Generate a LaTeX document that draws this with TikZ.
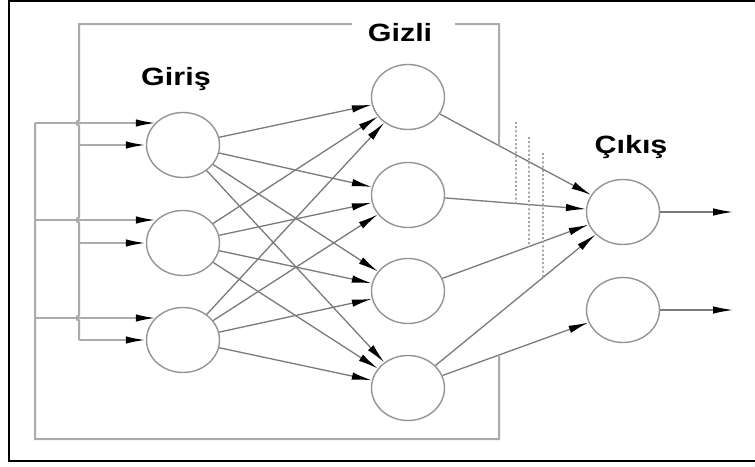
\documentclass[tikz,border=0pt]{standalone}
\usepackage{fontspec}
\setmainfont{Liberation Sans}
\usetikzlibrary{arrows.meta,shapes.geometric,calc}
\begin{document}
\begin{tikzpicture}[x=1pt,y=-1pt,
  neuron/.style={ellipse,draw=black!42,line width=1.4pt,minimum width=73pt,minimum height=65pt,inner sep=0pt,fill=white},
  conn/.style={draw=black!52,line width=1.3pt},
  tip/.style={-{Latex[length=20pt,width=7.5pt,color=black,fill=black]}},
  fb/.style={draw=black!33,line width=2pt},
  dots/.style={draw=black!35,line width=1.6pt,dash pattern=on 2pt off 2.2pt},
  frame/.style={draw=black,line width=1.8pt},
  layer/.style={font=\fontsize{25}{25}\selectfont\bfseries,xscale=1.22,anchor=base,inner sep=0pt}]
\useasboundingbox (0,0) rectangle (755,466);
\fill[white] (0,0) rectangle (755,466);
\begin{scope}
  \clip (0,0) rectangle (755,466);
  \draw[frame] (9,1) rectangle (775,461);
\end{scope}

% neurons
\foreach \n/\y in {1/145,2/243,3/340} \node[neuron] (i\n) at (183,\y) {};
\foreach \n/\y in {1/97,2/195,3/291,4/388} \node[neuron] (h\n) at (408,\y) {};
\node[neuron] (o1) at (623,212) {};
\node[neuron] (o2) at (623,310) {};

% layer titles
\node[layer] (tIn)  at (176,85) {Giriş};
\node[layer] (tHid) at (400,41) {Gizli};
\node[layer] (tOut) at (631,153) {Çıkış};

% weights
\foreach \a in {1,2,3} \foreach \b in {1,...,4} \draw[conn,tip] (i\a) -- (h\b);
\foreach \b in {1,...,4} \draw[conn,tip] (h\b) -- (o1);
\draw[conn,tip] (h4) -- (o2);

% outputs
\coordinate (y1) at (733,212);
\coordinate (y2) at (733,310);
\draw[conn,tip] (o1) -- (y1);
\draw[conn,tip] (o2) -- (y2);

% dotted guides
\coordinate (d1) at (516,122);
\coordinate (d2) at (529,137);
\coordinate (d3) at (543,153);
\draw[dots] (d1) -- ($(h2)!{108/215}!(o1)$);
\draw[dots] (d2) -- ($(h3)!{121/215}!(o1)$);
\draw[dots] (d3) -- ($(h4)!{135/215}!(o1)$);

% feedback loops
\coordinate (fbA) at ($(h1)!{91/215}!(o1)$);
\coordinate (fbB) at ($(h4)!{91/215}!(o2)$);
\coordinate (tr) at (499,24);
\coordinate (gapR) at (455,24);
\coordinate (gapL) at (352,24);
\coordinate (tl) at (79,24);
\coordinate (br) at (499,439);
\coordinate (bl) at (35,439);
\coordinate (L1) at (35,123);
\coordinate (L2) at (35,220);
\coordinate (L3) at (35,318);
\coordinate (M1) at (79,145);
\coordinate (M2) at (79,243);
\coordinate (M3) at (79,340);

\draw[fb] (fbA) -- (tr) -- (gapR);
\draw[fb] (gapL) -- (tl) -- (79,120.5) arc[start angle=270,end angle=90,radius=2.5]
  -- (79,217.5) arc[start angle=270,end angle=90,radius=2.5]
  -- (79,315.5) arc[start angle=270,end angle=90,radius=2.5] -- (M3);
\draw[fb] (fbB) -- (br) -- (bl) -- (L1);

\draw[fb,tip] (L1) -- (L1 -| i1.140);
\draw[fb,tip] (L2) -- (L2 -| i2.140);
\draw[fb,tip] (L3) -- (L3 -| i3.140);
\draw[fb,tip] (M1) -- (i1.west);
\draw[fb,tip] (M2) -- (i2.west);
\draw[fb,tip] (M3) -- (i3.west);
\end{tikzpicture}
\end{document}
